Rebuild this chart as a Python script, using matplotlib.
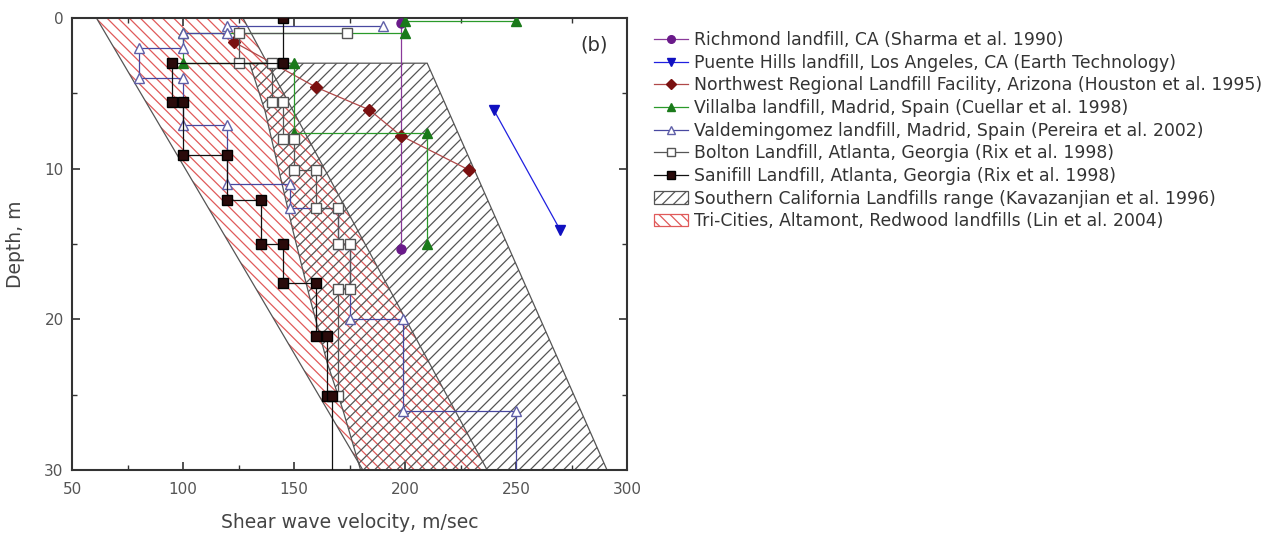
import matplotlib.pyplot as plt
import matplotlib.patches as mpatches
from matplotlib.lines import Line2D
from matplotlib.ticker import MultipleLocator
import numpy as np

plt.rcParams['font.family'] = ['DejaVu Sans']
plt.rcParams['hatch.linewidth'] = 0.9

# Step profiles, velocity (m/s) vs depth (m)
richmond_v = [198, 198]
richmond_d = [0.3, 15.3]

puente_v = [240, 270]
puente_d = [6.1, 14.1]

northwest_v = [123, 160, 184, 198, 229]
northwest_d = [1.6, 4.6, 6.1, 7.8, 10.1]

villalba_v = [250, 200, 200, 100, 100, 150, 150, 210, 210]
villalba_d = [0.2, 0.2, 1.0, 1.0, 3.0, 3.0, 7.6, 7.6, 15.0]

valdem_v = [190, 120, 120, 100, 100, 80, 80, 100, 100, 120, 120, 148, 148,
            170, 170, 175, 175, 199, 199, 250, 250]
valdem_d = [0.5, 0.5, 1.0, 1.0, 2.0, 2.0, 4.0, 4.0, 7.1, 7.1, 11.0, 11.0, 12.6,
            12.6, 15.0, 15.0, 20.0, 20.0, 26.1, 26.1, 30.0]

bolton_v = [174, 125, 125, 140, 140, 145, 145, 150, 150, 160, 160, 170, 170,
            175, 175, 170, 170]
bolton_d = [1.0, 1.0, 3.0, 3.0, 5.6, 5.6, 8.0, 8.0, 10.1, 10.1, 12.6, 12.6,
            15.0, 15.0, 18.0, 18.0, 25.1]

sanifill_v = [145, 145, 95, 95, 100, 100, 120, 120, 135, 135, 145, 145, 160,
              160, 165, 165, 167, 167]
sanifill_d = [0.0, 3.0, 3.0, 5.6, 5.6, 9.1, 9.1, 12.1, 12.1, 15.0, 15.0, 17.6,
              17.6, 21.1, 21.1, 25.1, 25.1, 30.0]

# Ranges
socal_v = [130, 210, 291, 180, 172, 165, 157, 149.5, 143, 137]
socal_d = [3.0, 3.0, 30.0, 30.0, 26.0, 22.9, 18.5, 14.1, 10.0, 6.2]

tricities_v = [61, 127, 237, 181]
tricities_d = [0, 0, 30, 30]

labels = [
    'Richmond landfill, CA (Sharma et al. 1990)',
    'Puente Hills landfill, Los Angeles, CA (Earth Technology)',
    'Northwest Regional Landfill Facility, Arizona (Houston et al. 1995)',
    'Villalba landfill, Madrid, Spain (Cuellar et al. 1998)',
    'Valdemingomez landfill, Madrid, Spain (Pereira et al. 2002)',
    'Bolton Landfill, Atlanta, Georgia (Rix et al. 1998)',
    'Sanifill Landfill, Atlanta, Georgia (Rix et al. 1998)',
    'Southern California Landfills range (Kavazanjian et al. 1996)',
    'Tri-Cities, Altamont, Redwood landfills (Lin et al. 2004)',
]

fig = plt.figure(figsize=(12.77, 5.38), dpi=100)
ax = fig.add_axes([72 / 1277, 1 - 470 / 538, 555 / 1277, 452 / 538])

edge = '#555555'
red_hatch = '#e05a5a'
gray_hatch = '#555555'
red_pat = '\\\\\\'
gray_pat = '///'

ax.add_patch(mpatches.Polygon(np.column_stack([tricities_v, tricities_d]),
                              closed=True, facecolor='none', edgecolor=red_hatch,
                              hatch=red_pat, linewidth=0, zorder=1))
ax.add_patch(mpatches.Polygon(np.column_stack([tricities_v, tricities_d]),
                              closed=True, fill=False, edgecolor=edge,
                              linewidth=0.9, zorder=1.5))
ax.add_patch(mpatches.Polygon(np.column_stack([socal_v, socal_d]),
                              closed=True, facecolor='none', edgecolor=gray_hatch,
                              hatch=gray_pat, linewidth=0, zorder=1))
ax.add_patch(mpatches.Polygon(np.column_stack([socal_v, socal_d]),
                              closed=True, fill=False, edgecolor=edge,
                              linewidth=0.9, zorder=1.5))

ms = 6.5
series = [
    (richmond_v, richmond_d, dict(color='#8a3a9a', marker='o', mfc='#6a1a8a', mec='#6a1a8a')),
    (puente_v, puente_d, dict(color='#2020e0', marker='v', mfc='#1010c0', mec='#1010c0')),
    (northwest_v, northwest_d, dict(color='#b04848', marker='D', mfc='#7a1010', mec='#7a1010', ms=6)),
    (villalba_v, villalba_d, dict(color='#2a9a2a', marker='^', mfc='#1a7a1a', mec='#1a7a1a')),
    (valdem_v, valdem_d, dict(color='#4848a0', marker='^', mfc='white', mec='#6060a8',
                              markevery=list(range(len(valdem_v) - 1)))),
    (bolton_v, bolton_d, dict(color='#555555', marker='s', mfc='white', mec='#555555')),
    (sanifill_v, sanifill_d, dict(color='#111111', marker='s', mfc='#2a0a0a', mec='#000000',
                                  markevery=list(range(len(sanifill_v) - 1)))),
]

handles = []
for v, d, kw in series:
    kw = dict(kw)
    kw.setdefault('ms', ms)
    ax.plot(v, d, lw=0.9, zorder=3, **kw)
    hkw = {k: val for k, val in kw.items() if k != 'markevery'}
    hkw['ms'] = 5.5
    handles.append(Line2D([], [], lw=0.9, **hkw))

handles.append(mpatches.Patch(facecolor='white', edgecolor=gray_hatch, hatch=gray_pat, lw=0.9))
handles.append(mpatches.Patch(facecolor='white', edgecolor=red_hatch, hatch=red_pat, lw=0.9))

ax.set_xlim(50, 300)
ax.set_ylim(30, 0)
ax.xaxis.set_major_locator(MultipleLocator(50))
ax.xaxis.set_minor_locator(MultipleLocator(25))
ax.yaxis.set_major_locator(MultipleLocator(10))
ax.yaxis.set_minor_locator(MultipleLocator(5))
ax.tick_params(which='both', direction='in', top=True, right=True,
               colors='#333333', labelcolor='#555555', labelsize=11)
ax.tick_params(which='major', length=6, width=1.2)
ax.tick_params(which='minor', length=3.5, width=1.0)
ax.tick_params(axis='x', which='both', pad=9)
ax.tick_params(axis='y', which='both', pad=6)
for s in ax.spines.values():
    s.set_color('#333333')
    s.set_linewidth(1.5)

ax.set_xlabel('Shear wave velocity, m/sec', fontsize=13.5, color='#444444', labelpad=11)
ax.set_ylabel('Depth, m', fontsize=13.5, color='#444444', labelpad=14)

ax.text(285, 1.8, '(b)', fontsize=14, color='#333333', ha='center', va='center')

fig.legend(handles, labels, loc='upper left', bbox_to_anchor=(654 / 1277, 1 - 31 / 538),
           frameon=False, fontsize=12.4, labelcolor='#333333', handlelength=1.97,
           handletextpad=0.35, labelspacing=0.27, borderpad=0, borderaxespad=0)

fig.savefig('out.png', dpi=100)
